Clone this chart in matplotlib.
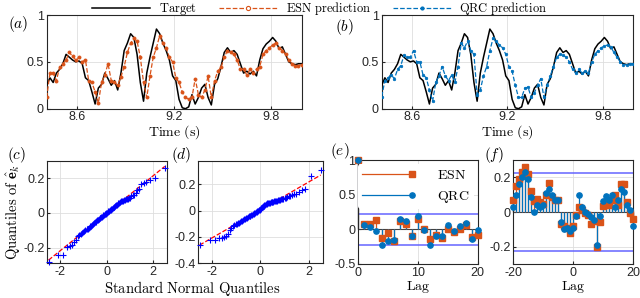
import numpy as np
import matplotlib
matplotlib.use("Agg")
import matplotlib.pyplot as plt
from matplotlib.lines import Line2D
from matplotlib.legend_handler import HandlerLine2D
from statistics import NormalDist

plt.rcParams.update({
    "font.family": ["Liberation Sans", "DejaVu Sans"],
    "font.size": 9,
    "mathtext.fontset": "cm",
    "axes.unicode_minus": False,
    "axes.linewidth": 0.8,
    "axes.edgecolor": "#262626",
    "xtick.direction": "in",
    "ytick.direction": "in",
    "xtick.major.size": 2.5,
    "ytick.major.size": 2.5,
    "xtick.color": "#262626",
    "ytick.color": "#262626",
})

ESN_C = "#D95319"
QRC_C = "#0072BD"
BOUND_C = "#6464FF"

# --- time series (a), (b) ---
t0, dt = 8.41, 0.02
target = [0.25, 0.33, 0.28, 0.38, 0.42, 0.48, 0.58, 0.55, 0.52, 0.50,
          0.51, 0.48, 0.33, 0.30, 0.18, 0.05, 0.22, 0.26, 0.38, 0.32,
          0.25, 0.30, 0.20, 0.38, 0.62, 0.70, 0.80, 0.76, 0.58, 0.28,
          0.08, 0.38, 0.55, 0.70, 0.85, 0.80, 0.70, 0.62, 0.52, 0.35,
          0.30, 0.10, 0.01, 0.00, 0.02, 0.15, 0.05, 0.12, 0.22, 0.26,
          0.12, 0.04, 0.26, 0.32, 0.45, 0.60, 0.65, 0.60, 0.62, 0.58,
          0.48, 0.38, 0.40, 0.37, 0.40, 0.35, 0.52, 0.64, 0.69, 0.72,
          0.76, 0.72, 0.64, 0.66, 0.58, 0.50, 0.48, 0.47, 0.48, 0.48]
esn_pred = [0.12, 0.38, 0.38, 0.30, 0.44, 0.48, 0.52, 0.60, 0.56, 0.52,
            0.55, 0.50, 0.52, 0.30, 0.28, 0.18, 0.06, 0.28, 0.36, 0.48,
            0.30, 0.28, 0.25, 0.34, 0.45, 0.60, 0.70, 0.75, 0.72, 0.55,
            0.28, 0.12, 0.35, 0.55, 0.65, 0.78, 0.70, 0.65, 0.55, 0.50,
            0.33, 0.28, 0.18, 0.12, 0.10, 0.12, 0.32, 0.15, 0.12, 0.20,
            0.35, 0.12, 0.30, 0.40, 0.44, 0.55, 0.62, 0.60, 0.58, 0.52,
            0.42, 0.42, 0.36, 0.42, 0.38, 0.42, 0.45, 0.58, 0.62, 0.65,
            0.68, 0.70, 0.65, 0.62, 0.58, 0.52, 0.48, 0.46, 0.46, 0.47]
qrc_pred = [0.13, 0.30, 0.33, 0.36, 0.32, 0.42, 0.46, 0.57, 0.55, 0.55,
            0.62, 0.50, 0.50, 0.36, 0.33, 0.20, 0.08, 0.28, 0.35, 0.45,
            0.35, 0.30, 0.36, 0.28, 0.45, 0.70, 0.65, 0.72, 0.62, 0.58,
            0.15, 0.20, 0.35, 0.45, 0.62, 0.75, 0.72, 0.68, 0.65, 0.58,
            0.45, 0.40, 0.25, 0.12, 0.12, 0.22, 0.23, 0.12, 0.17, 0.25,
            0.32, 0.12, 0.25, 0.35, 0.45, 0.55, 0.58, 0.57, 0.55, 0.50,
            0.42, 0.38, 0.42, 0.38, 0.40, 0.38, 0.50, 0.58, 0.62, 0.65,
            0.67, 0.68, 0.66, 0.60, 0.55, 0.50, 0.47, 0.47, 0.48, 0.48]
time_ticks = [8.6, 9.2, 9.8]

# --- sorted residuals for the QQ plots (c), (d) ---
esn_resid_sorted = [-0.28, -0.24, -0.24, -0.195, -0.19, -0.185, -0.17, -0.155, -0.135, -0.125,
                    -0.12, -0.115, -0.11, -0.105, -0.10, -0.095, -0.09, -0.085, -0.08, -0.077,
                    -0.073, -0.068, -0.063, -0.058, -0.053, -0.05, -0.046, -0.043, -0.04, -0.036,
                    -0.032, -0.028, -0.025, -0.022, -0.018, -0.015, -0.012, -0.008, -0.005, -0.002,
                    0.002, 0.005, 0.008, 0.012, 0.015, 0.018, 0.022, 0.025, 0.028, 0.032,
                    0.036, 0.04, 0.043, 0.047, 0.05, 0.054, 0.058, 0.062, 0.066, 0.069,
                    0.071, 0.073, 0.075, 0.077, 0.079, 0.081, 0.084, 0.088, 0.095, 0.10,
                    0.105, 0.115, 0.13, 0.14, 0.165, 0.17, 0.18, 0.19, 0.20, 0.26]
qrc_resid_sorted = [-0.26, -0.225, -0.222, -0.21, -0.205, -0.20, -0.19, -0.175, -0.145, -0.13,
                    -0.12, -0.112, -0.105, -0.10, -0.095, -0.09, -0.085, -0.08, -0.075, -0.07,
                    -0.065, -0.06, -0.056, -0.052, -0.048, -0.044, -0.04, -0.037, -0.034, -0.03,
                    -0.027, -0.024, -0.02, -0.017, -0.013, -0.01, -0.006, -0.002, 0.002, 0.006,
                    0.012, 0.018, 0.025, 0.032, 0.038, 0.043, 0.047, 0.05, 0.053, 0.055,
                    0.057, 0.059, 0.061, 0.063, 0.065, 0.067, 0.069, 0.071, 0.073, 0.075,
                    0.077, 0.079, 0.081, 0.083, 0.086, 0.089, 0.092, 0.096, 0.10, 0.105,
                    0.11, 0.115, 0.12, 0.125, 0.13, 0.14, 0.155, 0.165, 0.26, 0.31]

# --- autocorrelation (e), lags 0..20 ---
acf_lags = list(range(0, 21))
acf_esn = [1.0, 0.07, 0.08, 0.14, -0.12, -0.06, -0.17, 0.12, 0.07, -0.09, 0.15,
           0.0, -0.14, -0.08, -0.12, 0.01, -0.04, 0.0, 0.06, -0.11, -0.08]
acf_qrc = [1.0, 0.06, 0.04, -0.03, -0.22, -0.17, -0.15, 0.15, 0.12, -0.10, 0.19,
           -0.01, -0.22, -0.09, -0.10, 0.06, -0.03, 0.05, 0.09, -0.14, -0.01]

# --- cross-correlation (f), lags -20..20 ---
xcf_lags = list(range(-20, 21))
xcf_esn = [0.07, 0.15, 0.19, 0.23, 0.26, 0.22, 0.12, 0.065, 0.075, 0.06,
           0.045, 0.10, 0.17, 0.085, 0.07, 0.07, -0.07, -0.08, -0.09, -0.12,
           -0.08, -0.015, 0.03, 0.01, -0.005, -0.02, -0.07, -0.05, -0.20, -0.055,
           0.035, 0.06, 0.04, 0.07, 0.10, 0.04, 0.16, 0.16, 0.06, -0.005, -0.04]
xcf_qrc = [0.027, 0.10, 0.16, 0.20, 0.23, 0.19, 0.085, 0.0, 0.04, 0.03,
           0.04, 0.11, 0.13, 0.10, 0.07, 0.07, -0.055, -0.10, -0.09, -0.11,
           -0.09, -0.025, 0.10, 0.03, 0.0, -0.01, -0.03, -0.045, -0.19, -0.025,
           0.065, 0.09, 0.07, 0.10, 0.03, 0.07, 0.13, 0.115, 0.04, 0.013, -0.08]
conf_bound = 0.225


def serif(s):
    return r"$\mathrm{" + s.replace(" ", r"\ ") + "}$"


class EndMarkerHandler(HandlerLine2D):
    # legend line with its marker at the right end, like MATLAB stem legends
    def create_artists(self, legend, orig_handle, xdescent, ydescent,
                       width, height, fontsize, trans):
        artists = super().create_artists(legend, orig_handle, xdescent, ydescent,
                                         width, height, fontsize, trans)
        artists[0].set_markevery([-1])
        return artists


fig = plt.figure(figsize=(6.4, 2.98), dpi=100)
W, H = 640.0, 298.0
LABEL_FS = 10


def add_axes(x0, y0, x1, y1):
    return fig.add_axes([x0 / W, 1 - y1 / H, (x1 - x0) / W, (y1 - y0) / H])


def style(ax):
    ax.grid(True, color="#dedede", lw=0.6)
    ax.set_axisbelow(True)
    ax.tick_params(labelsize=9, pad=2)


t = t0 + dt * np.arange(len(target))

# (a) and (b)
ax_a = add_axes(46.7, 15, 301.7, 108.7)
ax_b = add_axes(381.7, 15, 633, 108.7)
for ax, pred, col, mk in [(ax_a, esn_pred, ESN_C, "o"), (ax_b, qrc_pred, QRC_C, ".")]:
    ax.plot(t, target, color="k", lw=1.1, zorder=3)
    ax.plot(t, pred, ls="--", color=col, lw=0.9, marker=mk,
            ms=2.2 if mk == "o" else 3.5, mfc=col, mew=0.6, zorder=4)
    ax.set_xlim(t[0], t[-1])
    ax.set_ylim(0, 1)
    ax.set_xticks(time_ticks)
    ax.set_xticklabels([str(v) for v in time_ticks])
    ax.set_yticks([0, 0.5, 1])
    ax.set_yticklabels(["0", "0.5", "1"])
    ax.set_xlabel(serif("Time (s)"), fontsize=LABEL_FS, labelpad=0)
    style(ax)
fig.text(8 / W, 1 - 24 / H, r"$(a)$", fontsize=11, va="center")
fig.text(335 / W, 1 - 27 / H, r"$(b)$", fontsize=11, va="center")

handles = [
    Line2D([], [], color="k", lw=1.1),
    Line2D([], [], color=ESN_C, ls="--", lw=0.9, marker="o", ms=3, mfc="white", mew=0.8),
    Line2D([], [], color=QRC_C, ls="--", lw=0.9, marker=".", ms=4),
]
fig.legend(handles, [serif("Target"), serif("ESN prediction"), serif("QRC prediction")],
           loc="upper center", bbox_to_anchor=(0.5, 1.038), ncol=3, frameon=False,
           fontsize=9, handlelength=4.6, handletextpad=0.7, columnspacing=1.8)

# (c) and (d) QQ plots
n = len(esn_resid_sorted)
theo = np.array([NormalDist().inv_cdf((i + 0.5) / n) for i in range(n)])
ax_c = add_axes(47.3, 160.7, 166.7, 263.3)
ax_d = add_axes(198.3, 160.7, 322.7, 263.3)
for ax, res, ylim, yt in [(ax_c, esn_resid_sorted, (-0.29, 0.3), [-0.2, 0, 0.2]),
                          (ax_d, qrc_resid_sorted, (-0.4, 0.38), [-0.4, -0.2, 0, 0.2])]:
    res = np.asarray(res)
    q1x, q3x = np.percentile(theo, [25, 75])
    q1y, q3y = np.percentile(res, [25, 75])
    slope = (q3y - q1y) / (q3x - q1x)
    xl = np.array([theo[0], theo[-1]])
    ax.plot(xl, q1y + slope * (xl - q1x), "r--", lw=0.9, zorder=2)
    ax.plot(theo, res, "b+", ms=4.5, mew=0.8, zorder=3, clip_on=False)
    ax.set_xlim(-2.55, 2.58)
    ax.set_ylim(*ylim)
    ax.set_xticks([-2, 0, 2])
    ax.set_yticks(yt)
    ax.set_yticklabels(["0" if v == 0 else f"{v:g}" for v in yt])
    style(ax)
ax_c.set_ylabel(r"$\mathrm{Quantiles\ of\ }\hat{\mathbf{e}}_k$", fontsize=10.5, labelpad=0)
fig.text(192 / W, 1 - 289 / H, serif("Standard Normal Quantiles"), fontsize=10.5,
         ha="center", va="center")
fig.text(7 / W, 1 - 155 / H, r"$(c)$", fontsize=11, va="center")
fig.text(171 / W, 1 - 155 / H, r"$(d)$", fontsize=11, va="center")


def stems(ax, lags, vals, col, mk):
    ml, sl, bl = ax.stem(lags, vals, linefmt="-", markerfmt=mk, basefmt=" ")
    plt.setp(sl, color=col, lw=0.9)
    plt.setp(ml, color=col, markersize=3.8, clip_on=False, zorder=4)
    sl.set_clip_on(False)


# (e) autocorrelation
ax_e = add_axes(358.3, 160, 477.7, 264)
ax_e.axhline(0, color="#404040", lw=0.8, zorder=2)
stems(ax_e, acf_lags, acf_esn, ESN_C, "s")
stems(ax_e, acf_lags, acf_qrc, QRC_C, "o")
for b in (conf_bound, -conf_bound):
    ax_e.axhline(b, color=BOUND_C, lw=1.1, zorder=1)
ax_e.set_xlim(0, 20)
ax_e.set_ylim(-0.5, 1)
ax_e.set_xticks([0, 10, 20])
ax_e.set_yticks([-0.5, 0, 0.5, 1])
ax_e.set_yticklabels(["-0.5", "0", "0.5", "1"])
ax_e.set_xlabel(serif("Lag"), fontsize=LABEL_FS, labelpad=0)
style(ax_e)
leg_h = [Line2D([], [], color=ESN_C, lw=0.9, marker="s", ms=3.8),
         Line2D([], [], color=QRC_C, lw=0.9, marker="o", ms=3.8)]
ax_e.legend(leg_h, [serif("ESN"), serif("QRC")], loc="upper right", frameon=True,
            facecolor="white", edgecolor="none", framealpha=1, fontsize=10,
            handlelength=3.6, handletextpad=1.8, borderpad=0.3, labelspacing=0.45,
            borderaxespad=0.3, handler_map={Line2D: EndMarkerHandler(numpoints=1)})
fig.text(330 / W, 1 - 151 / H, r"$(e)$", fontsize=11, va="center")

# (f) cross-correlation
ax_f = add_axes(513.3, 160, 633.3, 264)
ax_f.axhline(0, color="#404040", lw=0.8, zorder=2)
stems(ax_f, xcf_lags, xcf_esn, ESN_C, "s")
stems(ax_f, xcf_lags, xcf_qrc, QRC_C, "o")
for b in (conf_bound, -conf_bound):
    ax_f.axhline(b, color=BOUND_C, lw=1.1, zorder=1)
ax_f.set_xlim(-20, 20)
ax_f.set_ylim(-0.3, 0.3)
ax_f.set_xticks([-20, 0, 20])
ax_f.set_yticks([-0.2, 0, 0.2])
ax_f.set_yticklabels(["-0.2", "0", "0.2"])
ax_f.set_xlabel(serif("Lag"), fontsize=LABEL_FS, labelpad=0)
style(ax_f)
fig.text(484 / W, 1 - 155 / H, r"$(f)$", fontsize=11, va="center")

fig.savefig("out.png", dpi=100)
